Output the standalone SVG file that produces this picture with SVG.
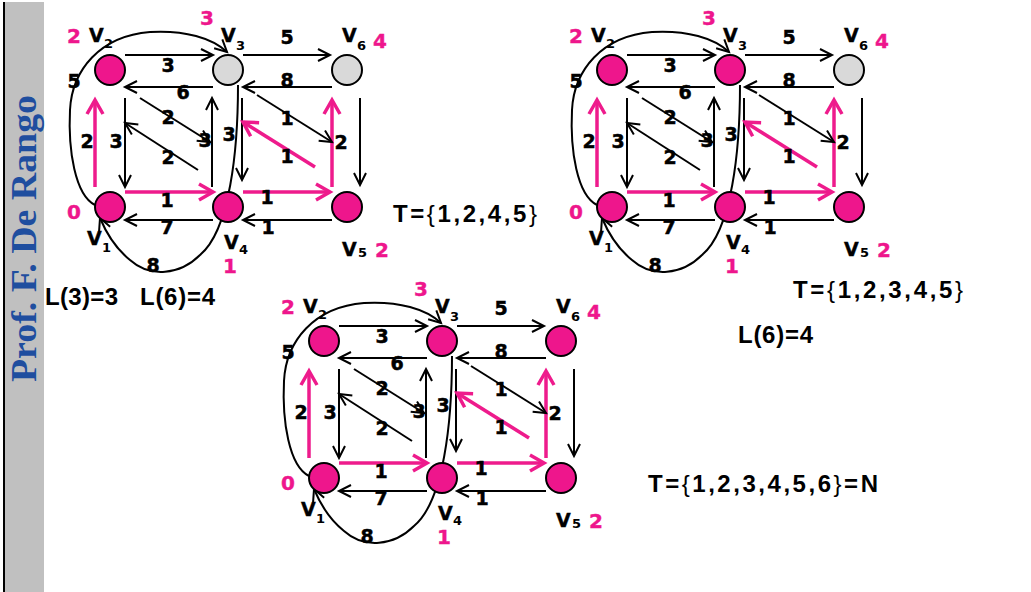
<svg xmlns="http://www.w3.org/2000/svg" width="1031" height="592" viewBox="0 0 1031 592">
<style>
.e{stroke:#000;stroke-width:2;fill:none;marker-end:url(#ab)}
.ep{stroke:#EE1B8C;stroke-width:3.5;fill:none;marker-end:url(#ap)}
.n{stroke:#000;stroke-width:2}
.pk{fill:#EE168C}
.gr{fill:#D9D9D9}
.w{font-family:"DejaVu Sans",Verdana,sans-serif;font-weight:bold;font-size:19px;text-anchor:middle;fill:#000;stroke:#000;stroke-width:0.5}
.v{font-family:"DejaVu Sans",Verdana,sans-serif;font-weight:bold;font-size:19px;fill:#000;stroke:#000;stroke-width:0.4}
.s{font-family:"DejaVu Sans",Verdana,sans-serif;font-weight:bold;font-size:13px;fill:#000}
.pn{font-family:"DejaVu Sans",Verdana,sans-serif;font-weight:bold;font-size:20px;fill:#EE168C;stroke:#EE168C;stroke-width:0.4}
.t{font-family:"Liberation Sans",Arial,sans-serif;font-weight:bold;font-size:24px;fill:#000}
.br{font-weight:normal}
</style>
<defs>
<marker id="ab" markerUnits="userSpaceOnUse" markerWidth="14" markerHeight="14" refX="12" refY="6" orient="auto" overflow="visible"><path d="M0,0 L12,6 L0,12" fill="none" stroke="#000" stroke-width="2"/></marker>
<marker id="ap" markerUnits="userSpaceOnUse" markerWidth="16" markerHeight="18" refX="14" refY="8" orient="auto" overflow="visible"><path d="M0,0 L14,8 L0,16" fill="none" stroke="#EE1B8C" stroke-width="3.5"/></marker>
</defs>
<rect x="0" y="0" width="1031" height="592" fill="#fff"/>
<g id="sidebar">
<rect x="5" y="2" width="39" height="590" fill="#C0C0C0"/>
<line x1="4" y1="2" x2="4" y2="592" stroke="#000" stroke-width="2"/>
<text transform="translate(36,382) rotate(-90)" font-family="'Liberation Serif','Times New Roman',serif" font-weight="bold" font-size="35" fill="#1F4E9F" textLength="287" lengthAdjust="spacingAndGlyphs">Prof. F. De Rango</text>
</g>

<!-- Graph 1 -->
<g id="graph1">
<g id="g1-edges">
<path class="e" d="M125,55 H213"/><text class="w" x="168" y="72">3</text>
<path class="e" d="M213,87 H125"/><text class="w" x="183" y="99">6</text>
<path class="e" d="M243,55 H330"/><text class="w" x="287" y="44">5</text>
<path class="e" d="M332,87 H243"/><text class="w" x="287" y="87">8</text>
<path class="e" d="M125,98 V187"/><text class="w" x="116" y="148">3</text>
<path class="ep" d="M95,187 V100"/><text class="w" x="87" y="148">2</text>
<path class="e" d="M212,187 V98"/><text class="w" x="205" y="147">3</text>
<path class="e" d="M242,98 V180"/><text class="w" x="229" y="141">3</text>
<path class="e" d="M360,98 V185"/>
<path class="ep" d="M332,187 V100"/><text class="w" x="341" y="149">2</text>
<path class="e" d="M140,98 L210,142"/><text class="w" x="168" y="124">2</text>
<path class="e" d="M198,170 L125,123"/><text class="w" x="168" y="164">2</text>
<path class="e" d="M257,95 L332,142"/><text class="w" x="287" y="125">1</text>
<path class="ep" d="M315,167 L243,122"/><text class="w" x="287" y="163">1</text>
<path class="ep" d="M125,192 H213"/><text class="w" x="167" y="207">1</text>
<path class="ep" d="M243,192 H330"/><text class="w" x="267" y="204">1</text>
<path class="e" d="M213,220 H125"/><text class="w" x="167" y="234">7</text>
<path class="e" d="M332,220 H243"/><text class="w" x="268" y="234">1</text>
<path class="e" d="M95,205 C75,195 68,150 70,110 C72,70 100,36 150,32 C185,30 212,38 227,52"/><text class="w" x="74" y="88">5</text>
<path class="e" d="M238,85 C238,150 230,230 200,255 C180,275 150,278 130,260 C115,248 105,230 100,218"/><text class="w" x="153" y="272">8</text>
</g>
<g id="g1-v2"><circle class="n pk" cx="110" cy="70" r="15"/><text class="v" x="89" y="42">V</text><text class="s" x="104" y="48">2</text><text class="pn" x="67" y="43">2</text></g>
<g id="g1-v3"><circle class="n gr" cx="228" cy="70" r="15"/><text class="v" x="221" y="42">V</text><text class="s" x="236" y="50">3</text><text class="pn" x="200" y="25">3</text></g>
<g id="g1-v6"><circle class="n gr" cx="347" cy="70" r="15"/><text class="v" x="342" y="42">V</text><text class="s" x="357" y="50">6</text><text class="pn" x="373" y="48">4</text></g>
<g id="g1-v1"><circle class="n pk" cx="110" cy="207" r="15"/><text class="v" x="87" y="245">V</text><text class="s" x="102" y="252">1</text><text class="pn" x="67" y="219">0</text></g>
<g id="g1-v4"><circle class="n pk" cx="228" cy="207" r="15"/><text class="v" x="224" y="249">V</text><text class="s" x="239" y="254">4</text><text class="pn" x="223" y="273">1</text></g>
<g id="g1-v5"><circle class="n pk" cx="347" cy="207" r="15"/><text class="v" x="342" y="256">V</text><text class="s" x="358" y="257">5</text><text class="pn" x="375" y="257">2</text></g>
</g>

<!-- Graph 2 -->
<g id="graph2" transform="translate(502,0)">
<g id="g2-edges">
<path class="e" d="M125,55 H213"/><text class="w" x="168" y="72">3</text>
<path class="e" d="M213,87 H125"/><text class="w" x="183" y="99">6</text>
<path class="e" d="M243,55 H330"/><text class="w" x="287" y="44">5</text>
<path class="e" d="M332,87 H243"/><text class="w" x="287" y="87">8</text>
<path class="e" d="M125,98 V187"/><text class="w" x="116" y="148">3</text>
<path class="ep" d="M95,187 V100"/><text class="w" x="87" y="148">2</text>
<path class="e" d="M212,187 V98"/><text class="w" x="205" y="147">3</text>
<path class="e" d="M242,98 V180"/><text class="w" x="229" y="141">3</text>
<path class="e" d="M360,98 V185"/>
<path class="ep" d="M332,187 V100"/><text class="w" x="341" y="149">2</text>
<path class="e" d="M140,98 L210,142"/><text class="w" x="168" y="124">2</text>
<path class="e" d="M198,170 L125,123"/><text class="w" x="168" y="164">2</text>
<path class="e" d="M257,95 L332,142"/><text class="w" x="287" y="125">1</text>
<path class="ep" d="M315,167 L243,122"/><text class="w" x="287" y="163">1</text>
<path class="ep" d="M125,192 H213"/><text class="w" x="167" y="207">1</text>
<path class="ep" d="M243,192 H330"/><text class="w" x="267" y="204">1</text>
<path class="e" d="M213,220 H125"/><text class="w" x="167" y="234">7</text>
<path class="e" d="M332,220 H243"/><text class="w" x="268" y="234">1</text>
<path class="e" d="M95,205 C75,195 68,150 70,110 C72,70 100,36 150,32 C185,30 212,38 227,52"/><text class="w" x="74" y="88">5</text>
<path class="e" d="M238,85 C238,150 230,230 200,255 C180,275 150,278 130,260 C115,248 105,230 100,218"/><text class="w" x="153" y="272">8</text>
</g>
<g id="g2-v2"><circle class="n pk" cx="110" cy="70" r="15"/><text class="v" x="89" y="42">V</text><text class="s" x="104" y="48">2</text><text class="pn" x="67" y="43">2</text></g>
<g id="g2-v3"><circle class="n pk" cx="228" cy="70" r="15"/><text class="v" x="221" y="42">V</text><text class="s" x="236" y="50">3</text><text class="pn" x="200" y="25">3</text></g>
<g id="g2-v6"><circle class="n gr" cx="347" cy="70" r="15"/><text class="v" x="342" y="42">V</text><text class="s" x="357" y="50">6</text><text class="pn" x="373" y="48">4</text></g>
<g id="g2-v1"><circle class="n pk" cx="110" cy="207" r="15"/><text class="v" x="87" y="245">V</text><text class="s" x="102" y="252">1</text><text class="pn" x="67" y="219">0</text></g>
<g id="g2-v4"><circle class="n pk" cx="228" cy="207" r="15"/><text class="v" x="224" y="249">V</text><text class="s" x="239" y="254">4</text><text class="pn" x="223" y="273">1</text></g>
<g id="g2-v5"><circle class="n pk" cx="347" cy="207" r="15"/><text class="v" x="342" y="256">V</text><text class="s" x="358" y="257">5</text><text class="pn" x="375" y="257">2</text></g>
</g>

<!-- Graph 3 -->
<g id="graph3" transform="translate(214,271)">
<g id="g3-edges">
<path class="e" d="M125,55 H213"/><text class="w" x="168" y="72">3</text>
<path class="e" d="M213,87 H125"/><text class="w" x="183" y="99">6</text>
<path class="e" d="M243,55 H330"/><text class="w" x="287" y="44">5</text>
<path class="e" d="M332,87 H243"/><text class="w" x="287" y="87">8</text>
<path class="e" d="M125,98 V187"/><text class="w" x="116" y="148">3</text>
<path class="ep" d="M95,187 V100"/><text class="w" x="87" y="148">2</text>
<path class="e" d="M212,187 V98"/><text class="w" x="205" y="147">3</text>
<path class="e" d="M242,98 V180"/><text class="w" x="229" y="141">3</text>
<path class="e" d="M360,98 V185"/>
<path class="ep" d="M332,187 V100"/><text class="w" x="341" y="149">2</text>
<path class="e" d="M140,98 L210,142"/><text class="w" x="168" y="124">2</text>
<path class="e" d="M198,170 L125,123"/><text class="w" x="168" y="164">2</text>
<path class="e" d="M257,95 L332,142"/><text class="w" x="287" y="125">1</text>
<path class="ep" d="M315,167 L243,122"/><text class="w" x="287" y="163">1</text>
<path class="ep" d="M125,192 H213"/><text class="w" x="167" y="207">1</text>
<path class="ep" d="M243,192 H330"/><text class="w" x="267" y="204">1</text>
<path class="e" d="M213,220 H125"/><text class="w" x="167" y="234">7</text>
<path class="e" d="M332,220 H243"/><text class="w" x="268" y="234">1</text>
<path class="e" d="M95,205 C75,195 68,150 70,110 C72,70 100,36 150,32 C185,30 212,38 227,52"/><text class="w" x="74" y="88">5</text>
<path class="e" d="M238,85 C238,150 230,230 200,255 C180,275 150,278 130,260 C115,248 105,230 100,218"/><text class="w" x="153" y="272">8</text>
</g>
<g id="g3-v2"><circle class="n pk" cx="110" cy="70" r="15"/><text class="v" x="89" y="42">V</text><text class="s" x="104" y="48">2</text><text class="pn" x="67" y="43">2</text></g>
<g id="g3-v3"><circle class="n pk" cx="228" cy="70" r="15"/><text class="v" x="221" y="42">V</text><text class="s" x="236" y="50">3</text><text class="pn" x="200" y="25">3</text></g>
<g id="g3-v6"><circle class="n pk" cx="347" cy="70" r="15"/><text class="v" x="342" y="42">V</text><text class="s" x="357" y="50">6</text><text class="pn" x="373" y="48">4</text></g>
<g id="g3-v1"><circle class="n pk" cx="110" cy="207" r="15"/><text class="v" x="87" y="245">V</text><text class="s" x="102" y="252">1</text><text class="pn" x="67" y="219">0</text></g>
<g id="g3-v4"><circle class="n pk" cx="228" cy="207" r="15"/><text class="v" x="224" y="249">V</text><text class="s" x="239" y="254">4</text><text class="pn" x="223" y="273">1</text></g>
<g id="g3-v5"><circle class="n pk" cx="347" cy="207" r="15"/><text class="v" x="342" y="256">V</text><text class="s" x="358" y="257">5</text><text class="pn" x="375" y="257">2</text></g>
</g>

<g id="notes">
<text class="t" x="45" y="305" textLength="73" lengthAdjust="spacing">L(3)=3</text>
<text class="t" x="140" y="305" textLength="75" lengthAdjust="spacing">L(6)=4</text>
<text class="t" x="393" y="222" textLength="144" lengthAdjust="spacing">T=<tspan class="br">{</tspan>1,2,4,5<tspan class="br">}</tspan></text>
<text class="t" x="793" y="298" textLength="170" lengthAdjust="spacing">T=<tspan class="br">{</tspan>1,2,3,4,5<tspan class="br">}</tspan></text>
<text class="t" x="738" y="343" textLength="75" lengthAdjust="spacing">L(6)=4</text>
<text class="t" x="648" y="492" textLength="230" lengthAdjust="spacing">T=<tspan class="br">{</tspan>1,2,3,4,5,6<tspan class="br">}</tspan>=N</text>
</g>
</svg>
